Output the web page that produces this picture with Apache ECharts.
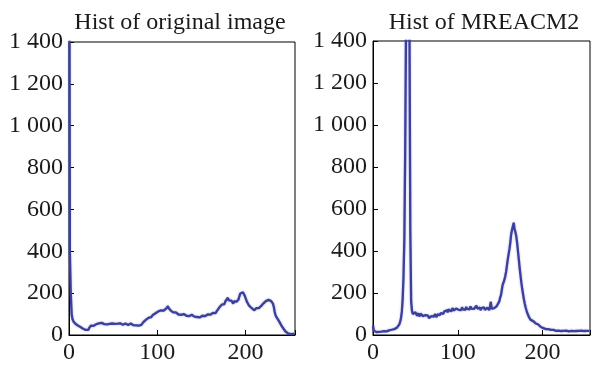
<!DOCTYPE html>
<html><head><meta charset="utf-8">
<script src="https://cdn.jsdelivr.net/npm/echarts@6/dist/echarts.min.js"></script>
<style>html,body{margin:0;padding:0;background:#fff}#c{width:593px;height:365px}</style>
</head><body><div id="c"></div>
<script>
const titles = ['Hist of original image', 'Hist of MREACM2'];
const yTicks = [0, 200, 400, 600, 800, 1000, 1200, 1400];
const xTicks = [0, 100, 200];
const original = [3000,390,200,100,75,65,58,55,52,50,45,42,40,38,35,33,30,28,26,24,22,28,25,35,40,45,42,48,44,50,47,52,48,50,55,48,53,58,50,55,52,49,56,51,54,50,53,49,52,55,50,48,53,51,49,54,50,52,56,51,53,49,57,52,55,50,54,48,53,50,55,49,52,47,53,50,46,51,48,45,50,43,48,55,60,66,62,72,75,70,82,78,88,85,92,96,90,100,104,98,108,112,106,115,118,112,120,116,124,119,126,135,138,128,122,118,112,115,108,112,104,108,100,106,98,104,100,96,102,95,100,94,99,92,98,94,90,96,92,97,90,95,88,93,90,86,92,88,84,90,86,92,88,94,90,96,92,98,95,100,97,103,100,106,102,110,105,112,118,125,130,126,138,145,140,152,148,160,155,168,178,165,170,158,164,155,150,160,156,165,160,158,170,185,198,202,196,204,195,188,180,165,155,148,140,132,138,128,122,130,118,124,128,122,132,128,136,130,140,145,150,158,155,162,165,160,168,165,160,162,158,150,135,110,95,85,78,72,65,58,50,42,35,30,24,18,14,10,8,6,5,4,5,6,5,4];
const mreacm2 = [45,20,15,12,14,10,12,15,11,14,16,13,15,18,16,19,17,20,18,22,20,23,25,24,27,28,30,32,34,38,42,50,62,80,110,170,280,460,880,1500,2200,2500,2000,1500,500,160,115,100,105,95,108,100,92,104,96,88,102,94,100,90,98,86,95,100,88,92,80,86,75,90,82,95,88,100,92,85,98,90,102,95,105,96,108,100,112,104,110,118,108,122,115,125,112,120,128,116,124,112,126,118,130,120,114,126,118,132,122,116,128,120,134,124,118,130,122,136,126,120,132,124,118,130,140,126,134,122,130,118,128,136,124,132,120,128,122,130,126,118,135,158,125,132,120,128,135,124,138,130,145,160,178,190,215,240,250,262,280,300,330,360,385,410,440,480,500,495,535,505,490,470,440,400,360,320,285,250,220,195,170,150,132,118,105,95,85,80,72,75,68,66,60,62,55,52,48,50,45,42,38,40,35,33,30,32,28,30,26,28,25,27,24,26,22,24,21,23,20,22,19,21,18,20,19,21,18,20,17,19,21,18,20,17,19,18,20,17,19,18,20,22,19,21,18,20,22,19,21,18,20,19,21,18,20,19,21,20];

const FONT = 'Liberation Serif';
const TXT = '#1a1a1a';
const LINE = '#3b3f9e';
function yFmt(v){ return v >= 1000 ? Math.floor(v/1000) + ' ' + String(v%1000).padStart(3,'0') : String(v); }
function xFmt(v){ return xTicks.indexOf(v) >= 0 ? String(v) : ''; }
function mkX(idx){ return {
  type:'value', gridIndex: idx, min:0, max:256, interval:100,
  axisLine:{show:true, lineStyle:{color:'#000', width:1}},
  axisTick:{show:true, inside:true, length:5, lineStyle:{color:'#000'}},
  axisLabel:{fontFamily:FONT, fontSize:24, color:TXT, margin:6, formatter:xFmt},
  splitLine:{show:false}
};}
function mkY(idx){ return {
  type:'value', gridIndex: idx, min:0, max:1400, interval:200,
  axisLine:{show:true, lineStyle:{color:'#000', width:1}},
  axisTick:{show:true, inside:true, length:5, lineStyle:{color:'#000'}},
  axisLabel:{fontFamily:FONT, fontSize:24, color:TXT, margin:6, formatter:yFmt},
  splitLine:{show:false}
};}
function mkS(idx, arr){ return {
  type:'line', xAxisIndex: idx, yAxisIndex: idx, showSymbol:false, clip:true,
  data: arr.map((v,i)=>[i,v]),
  lineStyle:{color:LINE, width:2.3, shadowBlur:2, shadowColor:'rgba(59,63,158,0.45)'},
  itemStyle:{color:LINE}
};}
const chart = echarts.init(document.getElementById('c'), null, {renderer:'canvas'});
chart.setOption({
  animation:false,
  backgroundColor:'#fff',
  title:[
    {text:titles[0], left:175, top:6, textAlign:'center', textStyle:{fontFamily:FONT, fontSize:24, fontWeight:'normal', color:TXT}},
    {text:titles[1], left:479, top:6, textAlign:'center', textStyle:{fontFamily:FONT, fontSize:24, fontWeight:'normal', color:TXT}}
  ],
  grid:[
    {left:69, top:42, width:226, height:297, show:true, borderColor:'#000', borderWidth:1, backgroundColor:'transparent'},
    {left:373, top:41, width:226, height:297, show:true, borderColor:'#000', borderWidth:1, backgroundColor:'transparent'}
  ],
  xAxis:[mkX(0), mkX(1)],
  yAxis:[mkY(0), mkY(1)],
  series:[mkS(0, original), mkS(1, mreacm2)]
});
</script></body></html>
